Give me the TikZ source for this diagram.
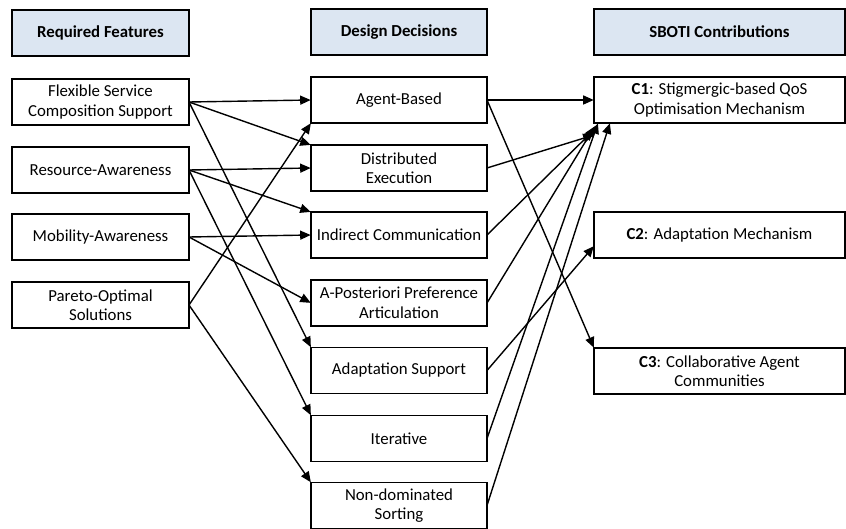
\documentclass[tikz,border=0pt]{standalone}
\usepackage{fontspec}
\setmainfont{Carlito}
\usetikzlibrary{arrows.meta,calc}
\definecolor{headfill}{HTML}{DCE6F2}
\tikzset{
  box/.style={draw=black, line width=1.6pt, fill=white, inner sep=0pt, outer sep=0pt,
    align=center, font=\fontsize{16.8}{19.5}\selectfont},
  leftbox/.style={box, minimum width=177pt, minimum height=46pt},
  midbox/.style={box, minimum width=176pt, minimum height=46pt},
  rightbox/.style={box, minimum width=251pt, minimum height=46pt},
  headbox/.style={fill=headfill, font=\fontsize{16.8}{19.5}\selectfont\bfseries},
  link/.style={line width=1.4pt, -{Triangle[length=10.5pt,width=9pt]}, shorten >=0.3pt}
}
\begin{document}
\begin{tikzpicture}[x=1pt,y=-1pt]
\useasboundingbox (0,0) rectangle (846,529);

% column headings
\node[leftbox,headbox]  (hreq) at (100.5,33) {Required Features};
\node[midbox,headbox]   (hdes) at (399,32) {Design Decisions};
\node[rightbox,headbox] (hcon) at (719.5,32) {SBOTI Contributions};

% required features
\node[leftbox] (flex) at (100.5,102) {Flexible Service\\Composition Support};
\node[leftbox] (res)  at (100.5,170) {Resource-Awareness};
\node[leftbox] (mob)  at (100.5,237) {Mobility-Awareness};
\node[leftbox] (par)  at (100.5,305) {Pareto-Optimal\\Solutions};

% design decisions
\node[midbox] (agent) at (399,100)   {Agent-Based};
\node[midbox] (dist)  at (399,168)   {Distributed\\Execution};
\node[midbox] (ind)   at (399,235)   {Indirect Communication};
\node[midbox] (apost) at (399,303)   {A-Posteriori Preference\\Articulation};
\node[midbox] (adapt) at (399,370.5) {Adaptation Support};
\node[midbox] (iter)  at (399,438.5) {Iterative};
\node[midbox] (nond)  at (399,505.5) {Non-dominated\\Sorting};

% contributions
\node[rightbox] (c1) at (719.5,100) {\textbf{C1}: Stigmergic-based QoS\\Optimisation Mechanism};
\node[rightbox] (c2) at (719.5,235) {\textbf{C2}: Adaptation Mechanism};
\node[rightbox] (c3) at (719.5,371) {\textbf{C3}: Collaborative Agent\\Communities};

% features -> design decisions
\draw[link] (flex.east) -- (agent.west);
\draw[link] (flex.east) -- (dist.north west);
\draw[link] (flex.east) -- (adapt.north west);
\draw[link] (res.east) -- (dist.west);
\draw[link] (res.east) -- (ind.north west);
\draw[link] (res.east) -- (iter.north west);
\draw[link] (mob.east) -- (ind.west);
\draw[link] (mob.east) -- (apost.west);
\draw[link] (par.east) -- (agent.south west);
\draw[link] (par.east) -- (nond.north west);

% design decisions -> contributions
\draw[link] (agent.east) -- (c1.west);
\draw[link] (agent.east) -- (c3.north west);
\draw[link] (dist.east)  -- ([yshift=-12pt]c1.south west);
\draw[link] (ind.east)   -- ([yshift=-7pt]c1.south west);
\draw[link] (apost.east) -- ([xshift=1pt,yshift=-3pt]c1.south west);
\draw[link] (adapt.east) -- ([yshift=-11pt]c2.west);
\draw[link] (iter.east)  -- ([xshift=4pt]c1.south west);
\draw[link] (nond.east)  -- ([xshift=16pt]c1.south west);
\end{tikzpicture}
\end{document}
